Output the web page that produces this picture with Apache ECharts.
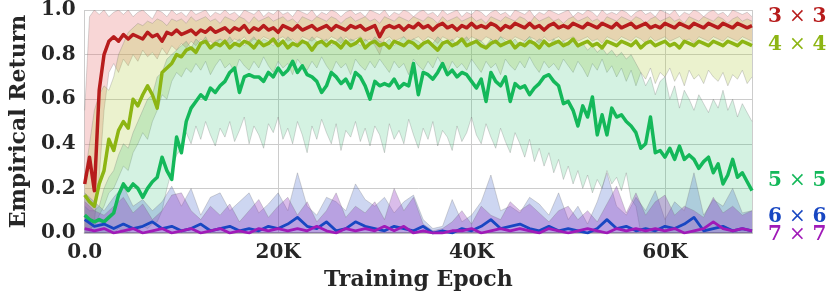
<!DOCTYPE html>
<html><head><meta charset="utf-8">
<script src="https://cdn.jsdelivr.net/npm/echarts@6/dist/echarts.min.js"></script>
<style>html,body{margin:0;padding:0;background:#fff}#c{width:830px;height:296px}</style>
</head><body><div id="c"></div>
<script>
// epochs in thousands (0.5K grid) for 3x3, 4x4, 5x5
const epochHalfK = [0,0.5,1,1.5,2,2.5,3,3.5,4,4.5,5,5.5,6,6.5,7,7.5,8,8.5,9,9.5,10,10.5,11,11.5,12,12.5,13,13.5,14,14.5,15,15.5,16,16.5,17,17.5,18,18.5,19,19.5,20,20.5,21,21.5,22,22.5,23,23.5,24,24.5,25,25.5,26,26.5,27,27.5,28,28.5,29,29.5,30,30.5,31,31.5,32,32.5,33,33.5,34,34.5,35,35.5,36,36.5,37,37.5,38,38.5,39,39.5,40,40.5,41,41.5,42,42.5,43,43.5,44,44.5,45,45.5,46,46.5,47,47.5,48,48.5,49,49.5,50,50.5,51,51.5,52,52.5,53,53.5,54,54.5,55,55.5,56,56.5,57,57.5,58,58.5,59,59.5,60,60.5,61,61.5,62,62.5,63,63.5,64,64.5,65,65.5,66,66.5,67,67.5,68,68.5,69];
// epochs in thousands (1K grid) for 6x6, 7x7
const epoch1K = [0,1,2,3,4,5,6,7,8,9,10,11,12,13,14,15,16,17,18,19,20,21,22,23,24,25,26,27,28,29,30,31,32,33,34,35,36,37,38,39,40,41,42,43,44,45,46,47,48,49,50,51,52,53,54,55,56,57,58,59,60,61,62,63,64,65,66,67,68,69];

const xTicks = [0, 20, 40, 60];
const yTicks = [0, 0.2, 0.4, 0.6, 0.8, 1.0];
const seriesNames = ['3 \u00d7 3', '4 \u00d7 4', '5 \u00d7 5', '6 \u00d7 6', '7 \u00d7 7'];

const mean3 = [0.22,0.34,0.19,0.64,0.80,0.86,0.88,0.86,0.89,0.87,
0.89,0.88,0.87,0.90,0.88,0.89,0.86,0.90,0.89,0.91,
0.89,0.90,0.91,0.89,0.91,0.90,0.92,0.90,0.91,0.92,
0.90,0.92,0.91,0.93,0.90,0.92,0.91,0.93,0.91,0.92,
0.90,0.93,0.92,0.91,0.93,0.91,0.92,0.93,0.91,0.92,
0.93,0.91,0.93,0.92,0.91,0.93,0.92,0.93,0.91,0.92,
0.93,0.88,0.92,0.93,0.92,0.93,0.91,0.93,0.92,0.94,
0.92,0.93,0.91,0.93,0.94,0.92,0.93,0.91,0.93,0.92,
0.94,0.92,0.93,0.92,0.94,0.93,0.91,0.93,0.92,0.94,
0.93,0.92,0.94,0.92,0.93,0.91,0.93,0.94,0.92,0.93,
0.92,0.94,0.93,0.92,0.94,0.93,0.92,0.94,0.93,0.92,
0.94,0.92,0.93,0.94,0.92,0.93,0.94,0.92,0.93,0.92,
0.94,0.93,0.92,0.94,0.93,0.92,0.94,0.93,0.92,0.94,
0.93,0.92,0.94,0.93,0.92,0.94,0.93,0.92,0.93];
const lo3 = [0.00,0.00,0.05,0.25,0.55,0.72,0.76,0.72,0.78,0.75,
0.80,0.77,0.82,0.79,0.81,0.78,0.83,0.80,0.84,0.82,
0.85,0.83,0.86,0.84,0.87,0.85,0.86,0.84,0.87,0.86,
0.85,0.87,0.86,0.88,0.85,0.87,0.86,0.88,0.87,0.85,
0.87,0.88,0.86,0.87,0.85,0.88,0.87,0.86,0.88,0.87,
0.86,0.88,0.87,0.85,0.88,0.86,0.87,0.88,0.86,0.87,
0.84,0.80,0.87,0.88,0.86,0.87,0.88,0.86,0.87,0.88,
0.86,0.88,0.87,0.85,0.88,0.87,0.86,0.88,0.87,0.86,
0.88,0.87,0.86,0.88,0.87,0.85,0.88,0.87,0.86,0.88,
0.87,0.86,0.88,0.87,0.85,0.88,0.86,0.87,0.88,0.86,
0.87,0.88,0.86,0.87,0.88,0.86,0.87,0.85,0.88,0.87,
0.86,0.88,0.87,0.86,0.88,0.87,0.85,0.88,0.86,0.87,
0.88,0.86,0.87,0.88,0.86,0.87,0.85,0.88,0.87,0.86,
0.88,0.87,0.86,0.88,0.87,0.86,0.88,0.87,0.86];
const hi3 = [0.55,0.97,1.00,0.98,1.00,0.97,0.99,1.00,0.98,1.00,
0.97,0.99,1.00,0.98,0.96,1.00,0.99,0.97,1.00,0.98,
0.99,0.97,1.00,0.98,0.99,1.00,0.97,0.99,0.98,1.00,
0.98,0.99,0.97,1.00,0.99,0.98,1.00,0.97,0.99,0.98,
1.00,0.98,0.99,0.97,1.00,0.99,0.98,1.00,0.97,0.99,
0.98,1.00,0.99,0.97,0.99,1.00,0.98,0.99,0.97,1.00,
0.99,0.98,1.00,0.97,0.99,0.98,1.00,0.99,0.97,0.99,
1.00,0.98,0.99,0.97,1.00,0.98,0.99,1.00,0.97,0.99,
0.98,1.00,0.99,0.97,0.99,1.00,0.98,0.99,0.97,1.00,
0.99,0.98,1.00,0.97,0.99,0.98,1.00,0.99,0.98,0.99,
1.00,0.97,0.99,0.98,1.00,0.99,0.97,1.00,0.98,0.99,
0.98,1.00,0.99,0.97,0.99,1.00,0.98,0.99,0.97,1.00,
0.99,0.98,1.00,0.97,0.99,0.98,1.00,0.99,0.97,0.99,
1.00,0.98,0.99,0.97,1.00,0.99,0.98,0.99,0.97];

const mean4 = [0.17,0.14,0.12,0.22,0.28,0.42,0.37,0.46,0.50,0.47,
0.60,0.57,0.62,0.66,0.62,0.56,0.72,0.74,0.76,0.80,
0.79,0.82,0.83,0.81,0.85,0.86,0.83,0.85,0.84,0.86,
0.83,0.85,0.84,0.86,0.85,0.83,0.86,0.84,0.85,0.87,
0.84,0.86,0.83,0.85,0.84,0.86,0.85,0.82,0.85,0.86,
0.84,0.86,0.85,0.83,0.86,0.84,0.85,0.87,0.83,0.85,
0.86,0.84,0.85,0.83,0.86,0.85,0.84,0.86,0.85,0.83,
0.85,0.86,0.84,0.82,0.85,0.86,0.84,0.85,0.87,0.84,
0.85,0.86,0.84,0.83,0.85,0.86,0.84,0.85,0.86,0.83,
0.85,0.84,0.86,0.85,0.83,0.86,0.84,0.85,0.86,0.84,
0.85,0.87,0.84,0.85,0.86,0.84,0.85,0.83,0.86,0.85,
0.84,0.86,0.85,0.84,0.86,0.83,0.85,0.86,0.84,0.85,
0.86,0.84,0.85,0.83,0.86,0.85,0.84,0.86,0.85,0.84,
0.86,0.85,0.84,0.86,0.85,0.84,0.86,0.85,0.84];
const lo4 = [0.02,0.02,0.03,0.08,0.12,0.18,0.20,0.25,0.30,0.28,
0.36,0.40,0.45,0.42,0.50,0.55,0.62,0.60,0.68,0.72,
0.70,0.74,0.72,0.76,0.73,0.77,0.71,0.75,0.78,0.74,
0.76,0.72,0.78,0.75,0.73,0.77,0.74,0.79,0.75,0.72,
0.77,0.74,0.76,0.71,0.78,0.75,0.73,0.77,0.74,0.79,
0.75,0.72,0.77,0.74,0.76,0.71,0.78,0.75,0.73,0.77,
0.74,0.78,0.75,0.72,0.77,0.74,0.76,0.71,0.78,0.75,
0.73,0.77,0.74,0.79,0.75,0.72,0.77,0.74,0.76,0.73,
0.78,0.75,0.72,0.77,0.74,0.76,0.71,0.78,0.75,0.73,
0.77,0.74,0.79,0.75,0.72,0.77,0.74,0.76,0.73,0.78,
0.75,0.72,0.77,0.74,0.70,0.76,0.73,0.78,0.72,0.75,
0.70,0.74,0.68,0.73,0.66,0.72,0.69,0.74,0.67,0.72,
0.70,0.74,0.68,0.72,0.66,0.73,0.69,0.71,0.67,0.73,
0.70,0.68,0.72,0.66,0.71,0.69,0.73,0.67,0.70];
const hi4 = [0.25,0.40,0.55,0.62,0.66,0.64,0.70,0.80,0.85,0.90,
0.92,0.94,0.93,0.95,0.94,0.96,0.95,0.93,0.96,0.95,
0.96,0.94,0.97,0.95,0.96,0.97,0.95,0.96,0.94,0.97,
0.96,0.95,0.97,0.96,0.94,0.97,0.95,0.96,0.97,0.95,
0.96,0.97,0.95,0.96,0.94,0.97,0.96,0.95,0.97,0.96,
0.95,0.97,0.96,0.94,0.96,0.97,0.95,0.96,0.97,0.95,
0.96,0.94,0.97,0.96,0.95,0.97,0.96,0.95,0.97,0.96,
0.95,0.97,0.96,0.94,0.97,0.95,0.96,0.97,0.95,0.96,
0.97,0.95,0.96,0.94,0.97,0.96,0.95,0.97,0.96,0.95,
0.97,0.96,0.94,0.97,0.95,0.96,0.97,0.95,0.96,0.94,
0.96,0.97,0.95,0.96,0.97,0.95,0.96,0.94,0.97,0.96,
0.95,0.97,0.96,0.95,0.97,0.96,0.94,0.96,0.97,0.95,
0.96,0.97,0.95,0.96,0.94,0.97,0.96,0.95,0.97,0.96,
0.95,0.97,0.96,0.94,0.96,0.97,0.95,0.96,0.95];

const mean5 = [0.08,0.06,0.05,0.06,0.05,0.07,0.09,0.17,0.22,0.19,
0.22,0.20,0.16,0.20,0.23,0.25,0.34,0.28,0.24,0.43,
0.36,0.50,0.56,0.59,0.62,0.60,0.65,0.63,0.66,0.68,
0.72,0.74,0.63,0.70,0.71,0.70,0.70,0.68,0.72,0.70,
0.74,0.71,0.73,0.77,0.72,0.75,0.71,0.70,0.68,0.63,
0.66,0.72,0.70,0.67,0.69,0.65,0.72,0.70,0.66,0.60,
0.68,0.66,0.67,0.66,0.69,0.65,0.67,0.66,0.76,0.62,
0.72,0.71,0.69,0.72,0.76,0.71,0.73,0.70,0.72,0.71,
0.68,0.65,0.69,0.59,0.72,0.68,0.66,0.70,0.59,0.67,
0.65,0.66,0.62,0.65,0.67,0.70,0.71,0.68,0.66,0.58,
0.59,0.55,0.48,0.57,0.52,0.61,0.44,0.53,0.44,0.56,
0.52,0.53,0.50,0.48,0.45,0.38,0.40,0.52,0.36,0.37,
0.34,0.38,0.33,0.39,0.33,0.35,0.33,0.29,0.32,0.34,
0.27,0.31,0.22,0.26,0.33,0.25,0.27,0.23,0.19];
const lo5 = [0.00,0.00,0.00,0.00,0.00,0.01,0.00,0.02,0.01,0.00,
0.02,0.01,0.03,0.02,0.04,0.05,0.10,0.20,0.28,0.35,
0.38,0.45,0.40,0.48,0.42,0.50,0.44,0.39,0.47,0.43,
0.50,0.41,0.46,0.52,0.40,0.48,0.44,0.38,0.49,0.45,
0.52,0.42,0.47,0.40,0.50,0.44,0.36,0.48,0.42,0.51,
0.45,0.40,0.49,0.37,0.46,0.43,0.50,0.41,0.47,0.39,
0.48,0.44,0.36,0.49,0.42,0.46,0.40,0.51,0.44,0.38,
0.47,0.42,0.50,0.39,0.46,0.43,0.37,0.48,0.41,0.45,
0.52,0.44,0.40,0.49,0.43,0.38,0.47,0.41,0.36,0.45,
0.40,0.34,0.42,0.32,0.38,0.30,0.36,0.27,0.33,0.24,
0.30,0.22,0.28,0.20,0.26,0.18,0.24,0.20,0.28,0.22,
0.25,0.19,0.27,0.15,0.12,0.00,0.00,0.00,0.00,0.00,
0.00,0.00,0.00,0.00,0.00,0.00,0.00,0.00,0.00,0.00,
0.00,0.00,0.00,0.00,0.00,0.00,0.00,0.00,0.00];
const hi5 = [0.12,0.10,0.10,0.12,0.20,0.25,0.28,0.35,0.40,0.38,
0.45,0.50,0.55,0.60,0.62,0.70,0.72,0.78,0.80,0.82,
0.84,0.86,0.83,0.87,0.85,0.88,0.84,0.86,0.87,0.85,
0.88,0.85,0.87,0.84,0.86,0.88,0.85,0.87,0.86,0.84,
0.87,0.85,0.88,0.86,0.84,0.87,0.85,0.88,0.86,0.85,
0.87,0.84,0.86,0.88,0.85,0.87,0.86,0.84,0.87,0.85,
0.88,0.86,0.85,0.87,0.84,0.86,0.88,0.85,0.87,0.86,
0.84,0.87,0.85,0.88,0.86,0.85,0.87,0.84,0.86,0.88,
0.85,0.87,0.86,0.84,0.87,0.85,0.88,0.86,0.85,0.87,
0.84,0.86,0.88,0.85,0.87,0.86,0.84,0.87,0.85,0.86,
0.84,0.86,0.83,0.85,0.82,0.84,0.81,0.83,0.80,0.82,
0.79,0.81,0.78,0.80,0.76,0.72,0.66,0.70,0.62,0.68,
0.70,0.60,0.66,0.56,0.64,0.60,0.55,0.62,0.58,0.54,
0.60,0.56,0.64,0.55,0.60,0.52,0.58,0.54,0.50];

const mean6 = [0.06,0.03,0.04,0.02,0.04,0.02,0.03,0.05,0.02,0.03,
0.01,0.02,0.04,0.01,0.02,0.03,0.01,0.02,0.01,0.03,
0.02,0.04,0.07,0.03,0.02,0.05,0.01,0.02,0.05,0.03,
0.02,0.01,0.03,0.02,0.01,0.03,0.00,0.01,0.00,0.02,
0.01,0.03,0.06,0.02,0.03,0.04,0.02,0.01,0.03,0.01,
0.02,0.01,0.00,0.02,0.06,0.02,0.03,0.01,0.02,0.01,
0.03,0.02,0.04,0.07,0.01,0.02,0.03,0.01,0.02,0.01];
const hi6 = [0.18,0.14,0.10,0.16,0.21,0.12,0.15,0.10,0.14,0.21,
0.12,0.20,0.08,0.16,0.18,0.10,0.14,0.18,0.09,0.13,
0.18,0.10,0.27,0.12,0.08,0.16,0.14,0.10,0.22,0.15,
0.12,0.16,0.09,0.14,0.17,0.06,0.02,0.03,0.15,0.05,
0.08,0.14,0.26,0.10,0.12,0.09,0.16,0.13,0.08,0.18,
0.06,0.12,0.04,0.14,0.27,0.12,0.08,0.16,0.10,0.19,
0.06,0.14,0.10,0.27,0.08,0.15,0.12,0.20,0.09,0.10];
const mean7 = [0.02,0.01,0.02,0.00,0.01,0.02,0.00,0.01,0.02,0.00,
0.01,0.02,0.00,0.01,0.02,0.00,0.01,0.00,0.02,0.01,
0.02,0.01,0.02,0.01,0.03,0.01,0.00,0.02,0.01,0.02,
0.01,0.03,0.01,0.03,0.00,0.01,0.00,0.00,0.01,0.01,
0.02,0.00,0.01,0.02,0.01,0.02,0.01,0.00,0.02,0.01,
0.00,0.01,0.02,0.01,0.00,0.02,0.01,0.02,0.01,0.02,
0.01,0.02,0.00,0.01,0.02,0.05,0.02,0.01,0.02,0.01];
const hi7 = [0.14,0.10,0.08,0.12,0.16,0.09,0.13,0.06,0.10,0.17,
0.18,0.10,0.06,0.12,0.08,0.13,0.05,0.10,0.15,0.07,
0.12,0.16,0.08,0.14,0.05,0.10,0.18,0.07,0.12,0.09,
0.14,0.06,0.20,0.10,0.16,0.04,0.01,0.02,0.05,0.10,
0.04,0.12,0.08,0.06,0.14,0.10,0.13,0.09,0.05,0.10,
0.12,0.06,0.10,0.05,0.13,0.21,0.09,0.18,0.08,0.14,
0.17,0.08,0.12,0.10,0.07,0.16,0.09,0.12,0.08,0.10];
const lo6 = epoch1K.map(() => 0);
const lo7 = epoch1K.map(() => 0);

const FONT = '"DejaVu Serif", serif';
const EDGE = 'rgba(110,110,110,0.45)';

function pairs(xs, ys) { return ys.map((v, i) => [xs[i], v]); }

// band drawn as one polygon through the chart's own coordinate system
function band(xs, lo, hi, fill) {
  return {
    type: 'custom', silent: true, z: 1, clip: true,
    data: xs.map((x, i) => [x, lo[i], hi[i]]),
    encode: { x: 0, y: [1, 2] },
    renderItem: function (params, api) {
      if (params.dataIndex !== 0) return null;
      const up = xs.map((x, i) => api.coord([x, hi[i]]));
      const dn = xs.map((x, i) => api.coord([x, lo[i]]));
      const poly = up.concat(dn.slice().reverse());
      return {
        type: 'group',
        children: [
          { type: 'polygon', shape: { points: poly }, style: { fill: fill, stroke: null } },
          { type: 'polyline', shape: { points: up }, style: { fill: null, stroke: EDGE, lineWidth: 0.6 } },
          { type: 'polyline', shape: { points: dn }, style: { fill: null, stroke: EDGE, lineWidth: 0.6 } }
        ]
      };
    }
  };
}
function line(xs, ys, color, w) {
  return { type: 'line', data: pairs(xs, ys), symbol: 'none', lineStyle: { color: color, width: w, join: 'round' }, z: 3 };
}

const colors = ['#b71c1c', '#8db513', '#14b85a', '#1847c2', '#a01ab8'];

const series = [
  band(epochHalfK, lo3, hi3, 'rgba(232,120,120,0.30)'),
  band(epochHalfK, lo4, hi4, 'rgba(175,205,60,0.25)'),
  band(epochHalfK, lo5, hi5, 'rgba(40,190,110,0.20)'),
  band(epoch1K, lo6, hi6, 'rgba(60,95,200,0.26)'),
  band(epoch1K, lo7, hi7, 'rgba(140,50,190,0.32)'),
  line(epochHalfK, mean5, colors[2], 3.5),
  line(epochHalfK, mean4, colors[1], 3.5),
  line(epochHalfK, mean3, colors[0], 3.5),
  line(epoch1K, mean6, colors[3], 2.8),
  line(epoch1K, mean7, colors[4], 2.8)
];

const labelY = [15.5, 44, 180, 216, 234];
const graphic = seriesNames.map((n, i) => {
  const parts = n.split(' \u00d7 ');
  return {
    type: 'text', x: 768, y: labelY[i] + 1,
    style: {
      text: '{d|' + parts[0] + '} {m|\u00d7} {d|' + parts[1] + '}',
      verticalAlign: 'middle',
      rich: {
        d: { fontFamily: FONT, fontWeight: 'bold', fontSize: 20, fill: colors[i], color: colors[i] },
        m: { fontFamily: FONT, fontWeight: 'normal', fontSize: 20, fill: colors[i], color: colors[i] }
      },
      fill: colors[i], font: 'bold 20px ' + FONT
    }
  };
});

const chart = echarts.init(document.getElementById('c'), null, { renderer: 'canvas' });
chart.setOption({
  animation: false,
  grid: { left: 73, right: 78, top: 10, bottom: 63, containLabel: false },
  xAxis: {
    type: 'value', min: 0, max: 69, interval: 20,
    name: 'Training Epoch', nameLocation: 'middle', nameGap: 36,
    nameTextStyle: { fontFamily: FONT, fontWeight: 'bold', fontSize: 22, color: '#262626' },
    axisLine: { show: true, lineStyle: { color: '#bdbdbd', width: 2 } },
    axisTick: { show: false },
    axisLabel: { showMaxLabel: false, margin: 10, fontFamily: FONT, fontWeight: 'bold', fontSize: 20, color: '#262626',
      formatter: v => (v === 0 ? '0.0' : v + 'K') },
    splitLine: { show: true, lineStyle: { color: '#cccccc', width: 1 } }
  },
  yAxis: {
    type: 'value', min: 0, max: 1, interval: 0.2,
    name: 'Empirical Return', nameLocation: 'middle', nameGap: 49,
    nameTextStyle: { fontFamily: FONT, fontWeight: 'bold', fontSize: 22, color: '#262626' },
    axisLine: { show: false }, axisTick: { show: false },
    axisLabel: { margin: 9, fontFamily: FONT, fontWeight: 'bold', fontSize: 20, color: '#262626',
      formatter: v => v.toFixed(1) },
    splitLine: { show: true, lineStyle: { color: '#cccccc', width: 1 } }
  },
  series: series,
  graphic: graphic
});
</script></body></html>
